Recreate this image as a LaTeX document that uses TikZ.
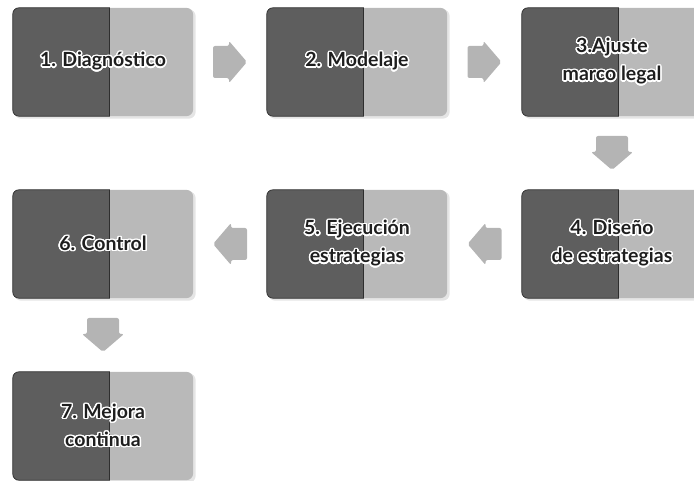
\documentclass[tikz,border=0pt]{standalone}
\usepackage{fontspec}
\setmainfont{Lato}
\usepackage{contour}
\contourlength{1.4pt}
\contournumber{24}
\usetikzlibrary{calc}
\definecolor{darkpart}{HTML}{5E5E5E}
\definecolor{darkedge}{HTML}{2E2E2E}
\definecolor{lightpart}{HTML}{B9B9B9}
\definecolor{arrowgray}{HTML}{B4B4B4}
\definecolor{txt}{HTML}{1E1E1E}
\newcommand\ct[1]{\contour{white}{#1}}
\tikzset{
  boxframe/.style={minimum width=180pt, minimum height=108pt, inner sep=0pt, draw=none},
  boxtext/.style={align=center, text=txt, font=\bfseries\fontsize{19.5}{28}\selectfont, inner sep=0pt},
  arrowfill/.style={fill=arrowgray, rounded corners=2pt},
  boxshadow/.style={fill=black, opacity=0.10, rounded corners=7pt},
}
\newcommand\flowbox[4]{%
  \node[boxframe] (#1) at (#2,#3) {};
  \fill[boxshadow] ($(#1.north west)+(1.5,1.5)$) rectangle ($(#1.south east)+(2.5,2.5)$);
  \begin{scope}
    \clip ($(#1.north west)+(97,-3)$) rectangle ($(#1.south east)+(6,3)$);
    \fill[lightpart, rounded corners=7pt] ($(#1.north west)+(80,0)$) rectangle (#1.south east);
  \end{scope}
  \begin{scope}
    \clip ($(#1.north west)+(-3,-3)$) rectangle ($(#1.south west)+(97,3)$);
    \filldraw[fill=darkpart, draw=darkedge, line width=0.7pt, rounded corners=6pt]
      (#1.north west) rectangle ($(#1.south west)+(120,0)$);
  \end{scope}
  \draw[darkedge, line width=0.7pt] ($(#1.north west)+(97,0)$) -- ($(#1.south west)+(97,0)$);
  \node[boxtext] (#1t) at (#1.center) {#4};
}
% block arrow pointing right, centred on a named coordinate, then rotated
\newcommand\blockarrow[2]{%
  \fill[arrowfill, shift={(#1)}, rotate=#2]
    (-17,-16) -- (-1,-16) -- (-1,-21) -- (17,0) -- (-1,21) -- (-1,16) -- (-17,16) -- cycle;
}
\begin{document}
\begin{tikzpicture}[x=1pt, y=-1pt]
\useasboundingbox (0,0) rectangle (694,481);
\flowbox{b1}{103}{62}{\ct{1. Diagnóstico}}
\flowbox{b2}{357}{62}{\ct{2. Modelaje}}
\flowbox{b3}{612}{62}{\ct{3.Ajuste}\\\ct{marco legal}}
\flowbox{b4}{612}{244}{\ct{4. Diseño}\\\ct{de estrategias}}
\flowbox{b5}{357}{244}{\ct{5. Ejecución}\\\ct{estrategias}}
\flowbox{b6}{103}{244}{\ct{6. Control}}
\flowbox{b7}{103}{426}{\ct{7. Mejora}\\\ct{continua}}
\coordinate (a12) at ($(b1.east)!0.5!(b2.west)$);
\coordinate (a23) at ($(b2.east)!0.5!(b3.west)$);
\coordinate (a34) at ($(b3.south)!0.5!(b4.north)$);
\coordinate (a45) at ($(b4.west)!0.5!(b5.east)$);
\coordinate (a56) at ($(b5.west)!0.5!(b6.east)$);
\coordinate (a67) at ($(b6.south)!0.5!(b7.north)$);
\blockarrow{a12}{0}
\blockarrow{a23}{0}
\blockarrow{a34}{-90}
\blockarrow{a45}{180}
\blockarrow{a56}{180}
\blockarrow{a67}{-90}
\end{tikzpicture}
\end{document}
